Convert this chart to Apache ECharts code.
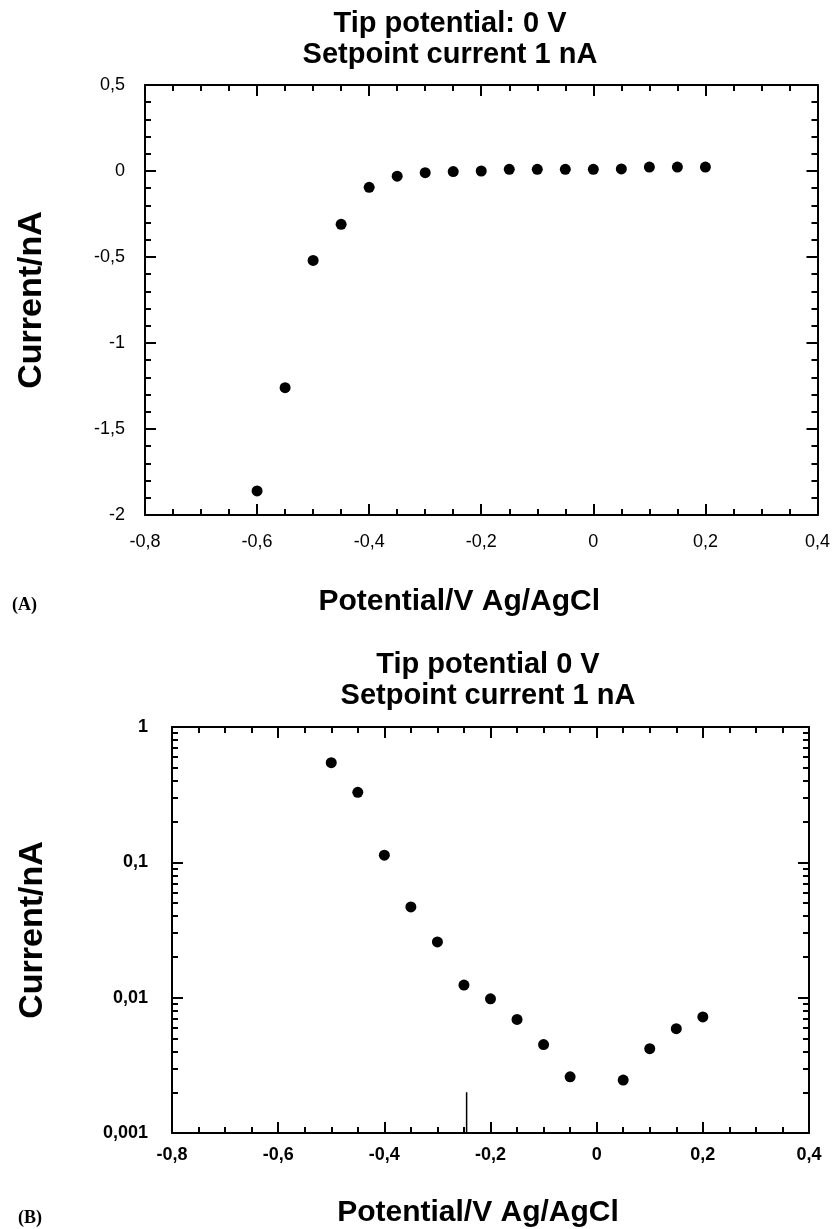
<!DOCTYPE html>
<html><head><meta charset="utf-8">
<script src="https://cdn.jsdelivr.net/npm/echarts@6/dist/echarts.min.js"></script>
<style>html,body{margin:0;padding:0;background:#fff}#c{width:833px;height:1229px}</style>
</head><body><div id="c"></div>
<script>
// Panel A: linear current vs potential
const potentialA = [-0.6,-0.55,-0.5,-0.45,-0.4,-0.35,-0.3,-0.25,-0.2,-0.15,-0.1,-0.05,0,0.05,0.1,0.15,0.2];
const currentA   = [-1.86,-1.26,-0.52,-0.31,-0.095,-0.03,-0.01,-0.003,0,0.01,0.01,0.01,0.01,0.012,0.023,0.023,0.023];
// Panel B: log current vs potential
const potentialB = [-0.5,-0.45,-0.4,-0.35,-0.3,-0.25,-0.2,-0.15,-0.1,-0.05,0.05,0.1,0.15,0.2];
const currentB   = [0.545,0.329,0.113,0.0468,0.0258,0.0124,0.0098,0.0069,0.0045,0.0026,0.00246,0.0042,0.0059,0.0072];
// stray vertical stroke in panel B
const strokeX = [-0.245,-0.245];
const strokeY = [0.001,0.002];
// axis ranges
const xRange = [-0.8, 0.4];
const yRangeA = [-2, 0.5];
const yRangeB = [0.001, 1];
const titleA = ['Tip potential: 0 V', 'Setpoint current 1 nA'];
const titleB = ['Tip potential 0 V', 'Setpoint current 1 nA'];
const xName = 'Potential/V Ag/AgCl';
const yName = 'Current/nA';

const FONT = "'Liberation Sans', Arial, Helvetica, sans-serif";
const comma = v => String(Math.round(v * 1000) / 1000).replace('.', ',');
const logLabel = v => String(Number(Number(v).toPrecision(3))).replace('.', ',');
// log minor tick positions (in log10 space) for helper axes
const logMinor = [];
for (let d = -3; d < 0; d++) for (let k = 2; k <= 9; k++) logMinor.push(Math.log10(k * Math.pow(10, d)));

const black = '#000';
const axisLine = {show: true, onZero: false, lineStyle: {color: black, width: 2}};
const majorTick = {show: true, inside: true, length: 11, lineStyle: {color: black, width: 2}};
const minorTickX = {show: true, splitNumber: 4, length: 6, lineStyle: {color: black, width: 2}};

function xAxisDef(grid, pos, labels, bold, nameObj) {
  const a = {
    type: 'value', gridIndex: grid, position: pos, min: xRange[0], max: xRange[1], interval: 0.2,
    axisLine, axisTick: majorTick, minorTick: minorTickX, splitLine: {show: false}, minorSplitLine: {show: false},
    axisLabel: {show: labels, formatter: comma, color: black, fontFamily: FONT, fontSize: 18,
      fontWeight: bold ? 'bold' : 'normal', margin: bold ? 13 : 18}
  };
  if (nameObj) Object.assign(a, nameObj);
  return a;
}
function textEl(x, y, text, font, align) {
  return {type: 'text', x, y, silent: true,
    style: {text, font, fill: black, textAlign: align || 'center', textVerticalAlign: 'middle'}};
}
const TFONT = `bold 29px ${FONT}`;
const LFONT = `bold 18px 'Liberation Serif', 'Times New Roman', serif`;

const option = {
  animation: false,
  backgroundColor: '#fff',
  grid: [
    {left: 145, top: 85, width: 677, height: 430},
    {left: 172, top: 727, width: 637, height: 406}
  ],
  graphic: [
    textEl(450, 24, titleA[0], TFONT),
    textEl(450, 55, titleA[1], TFONT),
    textEl(488, 665, titleB[0], TFONT),
    textEl(488, 696, titleB[1], TFONT),
    textEl(12, 605, '(A)', LFONT, 'left'),
    textEl(18, 1218, '(B)', LFONT, 'left')
  ],
  xAxis: [
    xAxisDef(0, 'bottom', true, false, {name: xName, nameLocation: 'middle', nameGap: 72,
      nameTextStyle: {fontFamily: FONT, fontSize: 30, fontWeight: 'bold', color: black, padding: [0, 44, 0, 0]}}),
    xAxisDef(0, 'top', false, false),
    xAxisDef(1, 'bottom', true, true, {name: xName, nameLocation: 'middle', nameGap: 65,
      nameTextStyle: {fontFamily: FONT, fontSize: 30, fontWeight: 'bold', color: black, padding: [0, 25, 0, 0]}}),
    xAxisDef(1, 'top', false, true)
  ],
  yAxis: [
    {type: 'value', gridIndex: 0, position: 'left', min: yRangeA[0], max: yRangeA[1], interval: 0.5,
      axisLine, axisTick: majorTick, minorTick: {show: true, splitNumber: 5, length: 6, lineStyle: {color: black, width: 2}},
      splitLine: {show: false}, minorSplitLine: {show: false},
      axisLabel: {formatter: comma, color: black, fontFamily: FONT, fontSize: 18, margin: 20},
      name: yName, nameLocation: 'middle', nameGap: 96, nameRotate: 90,
      nameTextStyle: {fontFamily: FONT, fontSize: 34, fontWeight: 'bold', color: black}},
    {type: 'value', gridIndex: 0, position: 'right', min: yRangeA[0], max: yRangeA[1], interval: 0.5,
      axisLine, axisTick: majorTick, minorTick: {show: true, splitNumber: 5, length: 6, lineStyle: {color: black, width: 2}},
      splitLine: {show: false}, minorSplitLine: {show: false}, axisLabel: {show: false}},
    {type: 'log', logBase: 10, gridIndex: 1, position: 'left', min: yRangeB[0], max: yRangeB[1],
      axisLine, axisTick: majorTick, splitLine: {show: false},
      axisLabel: {formatter: logLabel, color: black, fontFamily: FONT, fontSize: 18, fontWeight: 'bold', margin: 24},
      name: yName, nameLocation: 'middle', nameGap: 122, nameRotate: 90,
      nameTextStyle: {fontFamily: FONT, fontSize: 34, fontWeight: 'bold', color: black}},
    {type: 'log', logBase: 10, gridIndex: 1, position: 'right', min: yRangeB[0], max: yRangeB[1],
      axisLine, axisTick: majorTick, splitLine: {show: false}, axisLabel: {show: false}},
    {type: 'value', gridIndex: 1, position: 'left', min: -3, max: 0,
      axisLine: {show: false, onZero: false}, splitLine: {show: false}, axisLabel: {show: false},
      axisTick: {show: true, inside: true, length: 6, customValues: logMinor, lineStyle: {color: black, width: 2}}},
    {type: 'value', gridIndex: 1, position: 'right', min: -3, max: 0,
      axisLine: {show: false, onZero: false}, splitLine: {show: false}, axisLabel: {show: false},
      axisTick: {show: true, inside: true, length: 6, customValues: logMinor, lineStyle: {color: black, width: 2}}}
  ],
  series: [
    {type: 'scatter', xAxisIndex: 0, yAxisIndex: 0, symbolSize: 11, itemStyle: {color: black, opacity: 1},
      data: potentialA.map((x, i) => [x, currentA[i]])},
    {type: 'scatter', xAxisIndex: 2, yAxisIndex: 2, symbolSize: 11, itemStyle: {color: black, opacity: 1},
      data: potentialB.map((x, i) => [x, currentB[i]])},
    {type: 'line', xAxisIndex: 2, yAxisIndex: 2, symbol: 'none', lineStyle: {color: black, width: 1.5},
      data: strokeX.map((x, i) => [x, strokeY[i]])}
  ]
};
const chart = echarts.init(document.getElementById('c'), null, {renderer: 'canvas'});
chart.setOption(option);
</script>
</body></html>
